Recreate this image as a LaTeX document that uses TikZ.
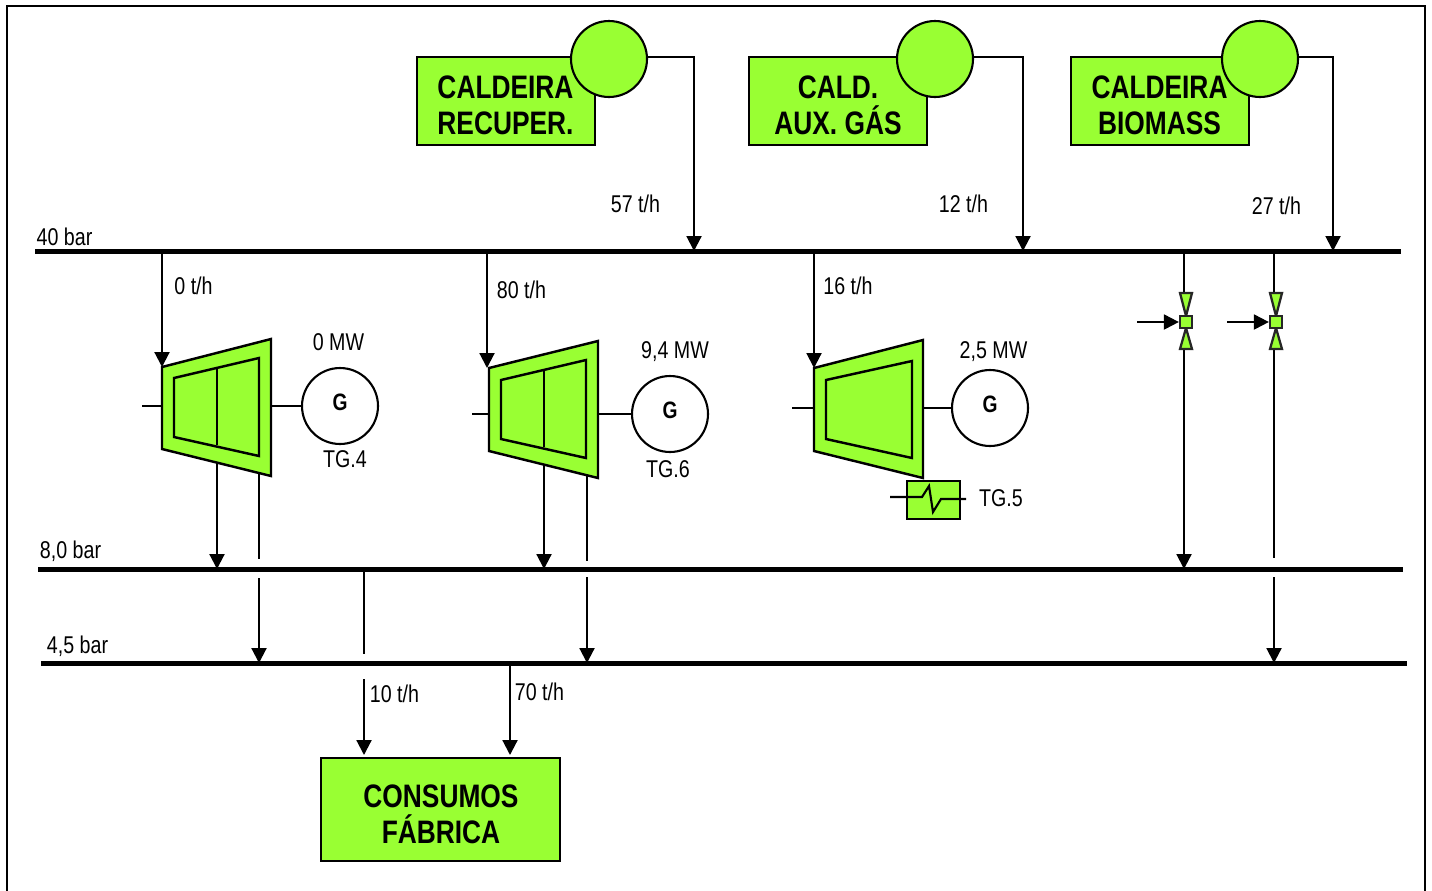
\documentclass[tikz,border=0pt]{standalone}
\usepackage{fontspec}
\setmainfont[FakeStretch=0.81]{Liberation Sans}
\usetikzlibrary{arrows.meta}
\definecolor{plantgreen}{HTML}{99FF33}
\tikzset{
	busbar/.style={line width=2.7pt},
	pipe/.style={line width=1.2pt},
	feed/.style={pipe, -{Triangle[length=8.5pt,width=8.5pt]}},
	boxnode/.style={draw, line width=1.2pt, fill=plantgreen, minimum width=3.56cm, minimum height=1.76cm, inner sep=0pt},
	boxtext/.style={font=\fontsize{18.5}{20.7}\selectfont\bfseries, align=center, inner sep=0pt},
	drum/.style={circle, draw, line width=1.2pt, fill=plantgreen, minimum size=1.52cm, inner sep=0pt},
	gennode/.style={circle, draw, line width=1.2pt, fill=white, minimum size=1.52cm, inner sep=0pt, text depth=4.5pt, font=\fontsize{13.5}{15}\selectfont\bfseries},
	turbshell/.style={draw, line width=1.4pt, fill=plantgreen},
	turbinner/.style={draw, line width=1.4pt},
	valvebody/.style={draw=black!85, line width=1.3pt, fill=plantgreen},
	tag/.style={font=\fontsize{13.8}{16}\selectfont, inner sep=0pt}
}
\begin{document}
\begin{tikzpicture}[x=0.02cm, y=-0.02cm]
	\clip (0,0) rectangle (1432,890);
	\draw[line width=1.2pt] (7,6) rectangle (1425,900);

	% barramentos
	\draw[busbar] (35,251.5) coordinate (b40w) -- (1401,251.5) coordinate (b40e);
	\draw[busbar] (38,569.5) coordinate (b8w) -- (1403,569.5) coordinate (b8e);
	\draw[busbar] (41,663.5) coordinate (b45w) -- (1407,663.5) coordinate (b45e);
	\node[tag] (l40) at (64.5,237) {40 bar};
	\node[tag] (l8) at (70.5,551) {8,0 bar};
	\node[tag] (l45) at (77.5,646) {4,5 bar};

	% caldeiras
	\coordinate (inA) at (694,251);
	\coordinate (inB) at (1023,251);
	\coordinate (inC) at (1333,251);
	\node[boxnode] (recup) at (506,101) {};
	\node[boxtext] (recuptxt) at (505.5,105.5) {CALDEIRA\\RECUPER.};
	\node[drum] (drumA) at (609,59) {};
	\draw[feed] (drumA.3) -| (inA);
	\node[tag] (flowA) at (635.5,204) {57 t/h};
	\node[boxnode] (aux) at (838,101) {};
	\node[boxtext] (auxtxt) at (838,105.5) {CALD.\\AUX. GÁS};
	\node[drum] (drumB) at (935,59) {};
	\draw[feed] (drumB.3) -| (inB);
	\node[tag] (flowB) at (963.5,204) {12 t/h};
	\node[boxnode] (biom) at (1160,101) {};
	\node[boxtext] (biomtxt) at (1159.5,105.5) {CALDEIRA\\BIOMASS};
	\node[drum] (drumC) at (1260,59) {};
	\draw[feed] (drumC.3) -| (inC);
	\node[tag] (flowC) at (1276.5,206) {27 t/h};

	% TG.4
	\draw[feed] (162,251) coordinate (t4top) -- (162,367) coordinate (t4in);
	\draw[feed] (217,449) coordinate (t4a) -- (217,569) coordinate (t4b);
	\draw[pipe] (259,470) coordinate (t4c) -- (259,559) coordinate (t4d);
	\draw[feed] (259,578) coordinate (t4e) -- (259,663) coordinate (t4f);
	\draw[turbshell] (162,367) -- (271,339) -- (271,476) -- (162,449) -- cycle;
	\draw[turbinner] (174,378) -- (259,358) -- (259,456) -- (174,437) -- cycle;
	\draw[pipe] (217,368) -- (217,445);
	\node[gennode] (gen4) at (340,406) {G};
	\draw[pipe] (142,406) coordinate (t4w) -- (162,406);
	\draw[pipe] (271,406) -- (gen4);
	\node[tag] (mw4) at (338.5,342) {0 MW};
	\node[tag] (tg4) at (345,459) {TG.4};
	\node[tag] (flow4) at (193.5,286) {0 t/h};

	% TG.6
	\draw[feed] (487,251) coordinate (t6top) -- (487,368) coordinate (t6in);
	\draw[feed] (544,451) coordinate (t6a) -- (544,569) coordinate (t6b);
	\draw[pipe] (587,472) coordinate (t6c) -- (587,561) coordinate (t6d);
	\draw[feed] (587,577) coordinate (t6e) -- (587,663) coordinate (t6f);
	\draw[turbshell] (489,368) -- (598,341) -- (598,478) -- (489,451) -- cycle;
	\draw[turbinner] (501,380) -- (586,360) -- (586,458) -- (501,439) -- cycle;
	\draw[pipe] (544,370) -- (544,447);
	\node[gennode] (gen6) at (670,414) {G};
	\draw[pipe] (472,414) coordinate (t6w) -- (489,414);
	\draw[pipe] (598,414) -- (gen6);
	\node[tag] (mw6) at (675,352) {9,4 MW};
	\node[tag] (tg6) at (668,469) {TG.6};
	\node[tag] (flow6) at (521.5,290) {80 t/h};

	% TG.5
	\draw[feed] (814,251) coordinate (t5top) -- (814,368) coordinate (t5in);
	\draw[turbshell] (814,368) -- (923,340) -- (923,478) -- (814,451) -- cycle;
	\draw[turbinner] (826,380) -- (912,361) -- (912,458) -- (826,439) -- cycle;
	\node[gennode] (gen5) at (990,408) {G};
	\draw[pipe] (792,408) coordinate (t5w) -- (814,408);
	\draw[pipe] (923,408) -- (gen5);
	\node[draw, line width=1.2pt, fill=plantgreen, minimum width=1.06cm, minimum height=0.76cm, inner sep=0pt] (cond) at (933.5,500) {};
	\draw[pipe] (890,497) -- (922,497) -- (929,486) -- (933,512) -- (941,499) -- (966,499);
	\node[tag] (mw5) at (993.5,352) {2,5 MW};
	\node[tag] (tg5) at (1001,498) {TG.5};
	\node[tag] (flow5) at (848,286) {16 t/h};

	% valvulas redutoras
	\draw[pipe] (1184,251) -- (1184,293);
	\draw[feed] (1184,349) -- (1184,569);
	\draw[pipe] (1274,251) -- (1274,293);
	\draw[pipe] (1274,349) -- (1274,558);
	\draw[feed] (1274,577) -- (1274,663);
	\foreach \vx/\vn in {1186/A,1276/B}{
		\draw[valvebody] (\vx-6,293) -- (\vx+6,293) -- (\vx,316) -- cycle;
		\draw[valvebody] (\vx-6,349) -- (\vx+6,349) -- (\vx,328) -- cycle;
		\node[valvebody, minimum size=0.24cm, inner sep=0pt] (valve\vn) at (\vx,322) {};
		\draw[feed] (\vx-49,322) coordinate (water\vn) -- (valve\vn);
	}

	% consumos
	\node[boxnode, minimum width=4.78cm, minimum height=2.06cm] (fab) at (440.5,809.5) {};
	\node[boxtext] (fabtxt) at (441,814.5) {CONSUMOS\\FÁBRICA};
	\draw[pipe] (364,570) coordinate (c8) -- (364,654) coordinate (c8end);
	\draw[feed] (364,679) coordinate (c45) -- (364,755) coordinate (cfabA);
	\draw[feed] (510,663) coordinate (d45) -- (510,755) coordinate (cfabB);
	\node[tag] (flowfabA) at (394.5,694) {10 t/h};
	\node[tag] (flowfabB) at (539.5,692) {70 t/h};
\end{tikzpicture}
\end{document}
